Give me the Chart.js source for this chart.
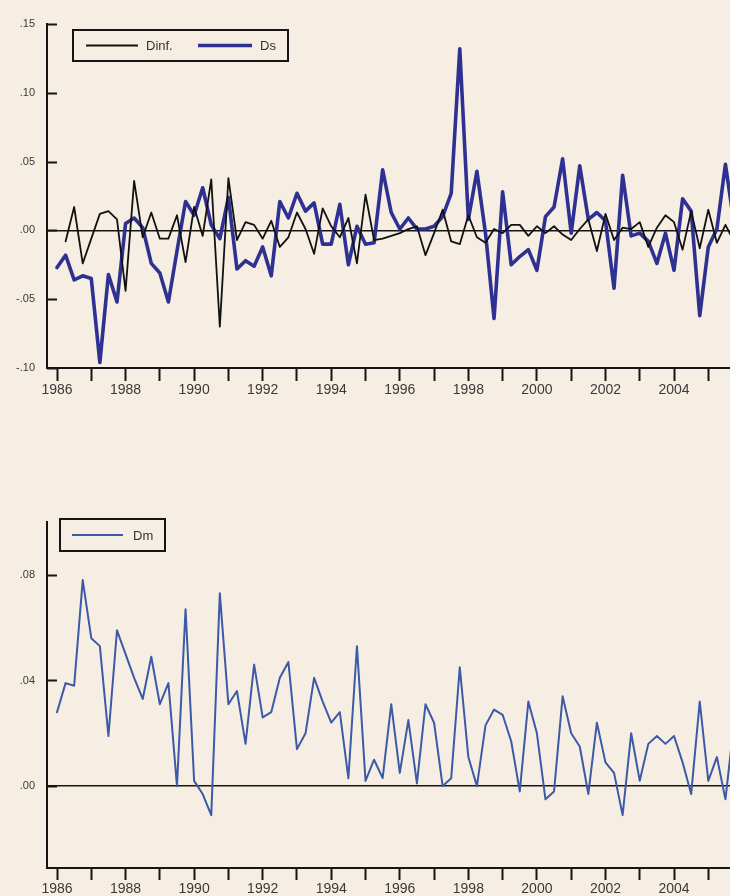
<!DOCTYPE html>
<html><head><meta charset="utf-8">
<script src="https://cdn.jsdelivr.net/npm/chart.js@4.4.1/dist/chart.umd.min.js"></script>
<style>
html,body{margin:0;padding:0;background:#f6eee2;width:730px;height:896px;overflow:hidden}
canvas{position:absolute;left:0}
#c1{top:0}
#c2{top:496px}
</style></head><body>
<canvas id="c1" width="730" height="400"></canvas>
<canvas id="c2" width="730" height="400"></canvas>
<script>
// ---- data (quarterly, 1986Q1 ...) ----
const startYear = 1986;
const nQuarters = 80;
const quarters = [];
for (let i = 0; i < nQuarters; i++) quarters.push(startYear + i / 4);

const yearTicks = [1986,1987,1988,1989,1990,1991,1992,1993,1994,1995,1996,1997,1998,1999,2000,2001,2002,2003,2004,2005];
const yearLabels = ['1986','1988','1990','1992','1994','1996','1998','2000','2002','2004'];

const topYTicks = [-0.10, -0.05, 0.00, 0.05, 0.10, 0.15];
const bottomYTicks = [0.00, 0.04, 0.08];

const dinf = [null,-0.008,0.017,-0.024,-0.006,0.012,0.014,0.008,-0.044,0.036,
  -0.005,0.013,-0.006,-0.006,0.011,-0.023,0.017,-0.004,0.037,-0.070,
  0.038,-0.007,0.006,0.004,-0.006,0.007,-0.012,-0.005,0.013,0.001,
  -0.017,0.016,0.003,-0.005,0.009,-0.024,0.026,-0.007,-0.006,-0.004,
  -0.002,0.001,0.003,-0.018,-0.002,0.015,-0.008,-0.010,0.011,-0.005,
  -0.009,0.001,-0.002,0.004,0.004,-0.004,0.003,-0.002,0.003,-0.003,
  -0.007,0.001,0.008,-0.015,0.012,-0.007,0.002,0.001,0.006,-0.012,
  0.002,0.011,0.006,-0.014,0.014,-0.013,0.015,-0.009,0.004,-0.008];

const ds = [-0.027,-0.018,-0.036,-0.033,-0.035,-0.096,-0.032,-0.052,0.005,0.009,
  0.002,-0.024,-0.031,-0.052,-0.015,0.021,0.011,0.031,0.004,-0.006,
  0.024,-0.028,-0.022,-0.026,-0.012,-0.033,0.021,0.009,0.027,0.014,
  0.020,-0.010,-0.010,0.019,-0.025,0.003,-0.010,-0.009,0.044,0.013,
  0.001,0.009,0.001,0.001,0.003,0.010,0.027,0.132,0.008,0.043,
  -0.002,-0.064,0.028,-0.025,-0.019,-0.014,-0.029,0.010,0.017,0.052,
  -0.002,0.047,0.008,0.013,0.007,-0.042,0.040,-0.004,-0.002,-0.008,
  -0.024,-0.002,-0.029,0.023,0.014,-0.062,-0.012,0.001,0.048,0.005];

const dm = [0.028,0.039,0.038,0.078,0.056,0.053,0.019,0.059,0.050,0.041,
  0.033,0.049,0.031,0.039,0.000,0.067,0.002,-0.003,-0.011,0.073,
  0.031,0.036,0.016,0.046,0.026,0.028,0.041,0.047,0.014,0.020,
  0.041,0.032,0.024,0.028,0.003,0.053,0.002,0.010,0.003,0.031,
  0.005,0.025,0.001,0.031,0.024,0.000,0.003,0.045,0.011,0.000,
  0.023,0.029,0.027,0.017,-0.002,0.032,0.020,-0.005,-0.002,0.034,
  0.020,0.015,-0.003,0.024,0.009,0.005,-0.011,0.020,0.002,0.016,
  0.019,0.016,0.019,0.009,-0.003,0.032,0.002,0.011,-0.005,0.024];

// ---- helpers ----
const FONT = "'Liberation Sans', Arial, sans-serif";
const TXT = '#3a3a3a';
const AX = '#151515';
const BG = '#f6eee2';

function pts(values) { return values.map((v, i) => ({ x: quarters[i], y: v })); }
function fmtY(v) {
  const s = Number(v).toFixed(2);
  return s.replace(/^(-?)0\./, '$1.');
}

const innerTicks = {
  id: 'innerTicks',
  afterDraw(chart) {
    const ctx = chart.ctx, y = chart.scales.y, a = chart.chartArea;
    ctx.save();
    ctx.strokeStyle = AX; ctx.lineWidth = 2;
    y.ticks.forEach(t => {
      const py = Math.round(y.getPixelForValue(t.value)) + 0.5;
      ctx.beginPath(); ctx.moveTo(a.left, py); ctx.lineTo(a.left + 10, py); ctx.stroke();
    });
    ctx.restore();
  }
};

const boxLegend = {
  id: 'boxLegend',
  afterDraw(chart, args, opts) {
    if (!opts || !opts.box) return;
    const ctx = chart.ctx, b = opts.box;
    ctx.save();
    ctx.fillStyle = BG;
    ctx.fillRect(b.x, b.y, b.w, b.h);
    ctx.strokeStyle = AX; ctx.lineWidth = 2;
    ctx.strokeRect(b.x, b.y, b.w, b.h);
    const cy = b.y + b.h / 2;
    chart.data.datasets.forEach((d, i) => {
      const it = opts.items[i];
      ctx.strokeStyle = d.borderColor; ctx.lineWidth = d.borderWidth;
      ctx.beginPath(); ctx.moveTo(it.x1, cy); ctx.lineTo(it.x2, cy); ctx.stroke();
      ctx.fillStyle = '#333';
      ctx.font = '13px ' + FONT;
      ctx.textBaseline = 'middle';
      ctx.fillText(d.label, it.tx, cy + 1);
    });
    ctx.restore();
  }
};

function makeChart(id, datasets, yMin, yMax, yTicks, padTop, xAxisH, tickLen, legend) {
  return new Chart(document.getElementById(id), {
    type: 'line',
    data: { datasets },
    options: {
      responsive: false,
      animation: false,
      events: [],
      layout: { padding: { top: padTop, left: 0, right: 0, bottom: 0 } },
      elements: { point: { radius: 0 }, line: { tension: 0, borderJoinStyle: 'round', borderCapStyle: 'round' } },
      plugins: { legend: { display: false }, tooltip: { enabled: false }, boxLegend: legend },
      scales: {
        x: {
          type: 'linear', min: 1985.708, max: 2005.633,
          afterBuildTicks: s => { s.ticks = yearTicks.map(v => ({ value: v })); },
          afterFit: s => { s.height = xAxisH; },
          ticks: {
            autoSkip: false, maxRotation: 0, minRotation: 0, padding: 1, color: TXT,
            font: { family: FONT, size: 14 },
            callback: v => yearLabels.includes(String(v)) ? String(v) : ''
          },
          grid: { display: true, drawOnChartArea: false, drawTicks: true, tickLength: tickLen, tickWidth: 2, tickColor: AX, color: 'rgba(0,0,0,0)' },
          border: { display: true, color: AX, width: 2 }
        },
        y: {
          type: 'linear', min: yMin, max: yMax,
          afterBuildTicks: s => { s.ticks = yTicks.map(v => ({ value: v })); },
          afterFit: s => { s.width = 47; },
          ticks: { padding: 12, color: TXT, font: { family: FONT, size: 11 }, callback: v => fmtY(v) },
          grid: {
            drawTicks: false, drawOnChartArea: true,
            color: c => (c.tick && Math.abs(c.tick.value) < 1e-9) ? AX : 'rgba(0,0,0,0)',
            lineWidth: c => (c.tick && Math.abs(c.tick.value) < 1e-9) ? 1.6 : 0
          },
          border: { display: true, color: AX, width: 2 }
        }
      }
    },
    plugins: [innerTicks, boxLegend]
  });
}

makeChart('c1', [
  { label: 'Dinf.', data: pts(dinf), borderColor: '#111111', borderWidth: 1.8, spanGaps: false },
  { label: 'Ds', data: pts(ds), borderColor: '#2e3192', borderWidth: 3.6 }
], -0.10, 0.15, topYTicks, 24, 32, 13, {
  box: { x: 73, y: 30, w: 215, h: 31 },
  items: [{ x1: 86, x2: 138, tx: 146 }, { x1: 198, x2: 252, tx: 260 }]
});

makeChart('c2', [
  { label: 'Dm', data: pts(dm), borderColor: '#3c5aa8', borderWidth: 2 }
], -0.031, 0.10, bottomYTicks, 26, 28, 12, {
  box: { x: 60, y: 23, w: 105, h: 32 },
  items: [{ x1: 72, x2: 123, tx: 133 }]
});
</script>
</body></html>
